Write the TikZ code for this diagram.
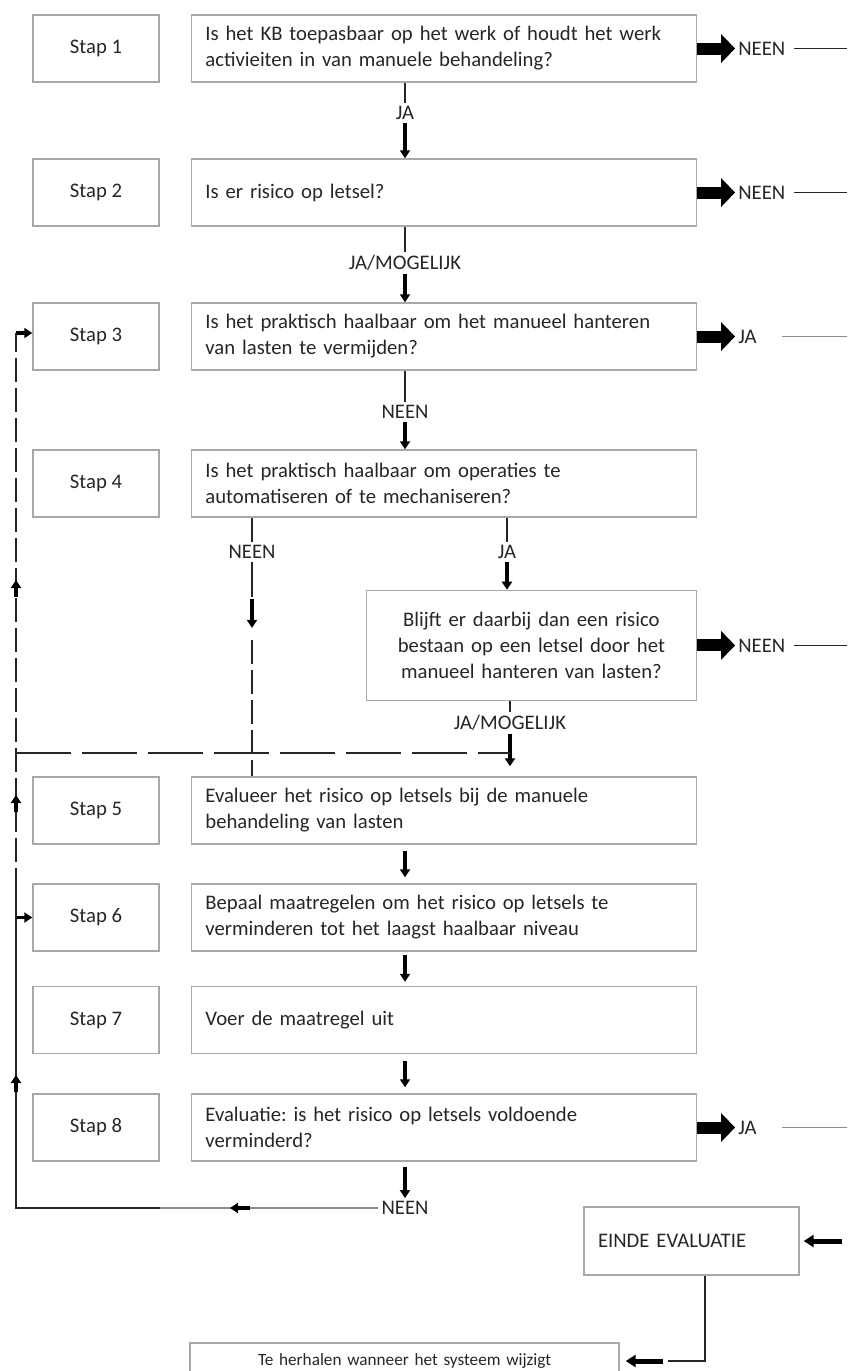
\documentclass[tikz,border=0pt]{standalone}
\usepackage{fontspec}
\setmainfont{Carlito}
\usepackage{xcolor}
\usepackage{tikz}
\usetikzlibrary{arrows, arrows.meta, positioning, calc}
\definecolor{boxgray}{HTML}{A8A8A8}
\definecolor{linegray}{HTML}{8C8C8C}
\definecolor{inkgray}{HTML}{262626}
\tikzstyle{stepbox} = [rectangle, minimum width=126pt, minimum height=67pt, text centered, draw=boxgray, line width=1.4pt]
\tikzstyle{question} = [rectangle, minimum height=67pt, text width=477pt, inner xsep=14pt, align=left, draw=boxgray, line width=1.4pt]
\tikzstyle{answer} = [inner sep=3pt]
\tikzstyle{connector} = [draw=inkgray, line width=1.2pt]
\tikzstyle{softline} = [draw=linegray, line width=1.5pt]
\tikzstyle{dashline} = [connector, dash pattern=on 24pt off 6pt]
\tikzstyle{arrow} = [draw=black, line width=3.2pt, -{Triangle[length=8pt, width=10pt]}]
\tikzstyle{bigarrow} = [draw=black, line width=12pt, -{Triangle[length=14pt, width=28pt]}]
\tikzstyle{midarrow} = [draw=black, line width=5pt, -{Triangle[length=10pt, width=12pt]}]

\begin{document}
\frenchspacing
\begin{tikzpicture}[x=1pt, y=-1pt, node distance=144pt, font=\fontsize{20.7}{26}\selectfont, text=inkgray]
    \useasboundingbox (0,0) rectangle (847,1371);
    \clip (0,0) rectangle (847,1371);

    % steps
    \node (s1) [stepbox] at (96,48.5) {Stap 1};
    \node (s2) [stepbox, below of=s1] {Stap 2};
    \node (s3) [stepbox, below of=s2] {Stap 3};
    \node (s4) [stepbox, below of=s3, yshift=-3pt] {Stap 4};
    \node (s5) [stepbox, below of=s4, yshift=-183pt] {Stap 5};
    \node (s6) [stepbox, below of=s5, yshift=37pt] {Stap 6};
    \node (s7) [stepbox, below of=s6, yshift=41.5pt] {Stap 7};
    \node (s8) [stepbox, below of=s7, yshift=36.5pt] {Stap 8};

    % questions
    \node (q1) [question, right=31pt of s1] {Is het KB toepasbaar op het werk of houdt het werk\\activieiten in van manuele behandeling?};
    \node (q2) [question, right=31pt of s2] {Is er risico op letsel?};
    \node (q3) [question, right=31pt of s3] {Is het praktisch haalbaar om het manueel hanteren\\van lasten te vermijden?};
    \node (q4) [question, right=31pt of s4] {Is het praktisch haalbaar om operaties te\\automatiseren of te mechaniseren?};
    \node (q4b) [question, text width=302pt, align=center, minimum height=110pt, below left=72pt and 0pt of q4.south east] {Blijft er daarbij dan een risico\\bestaan op een letsel door het\\manueel hanteren van lasten?};
    \node (q5) [question, right=31pt of s5] {Evalueer het risico op letsels bij de manuele\\behandeling van lasten};
    \node (q6) [question, right=31pt of s6] {Bepaal maatregelen om het risico op letsels te\\verminderen tot het laagst haalbaar niveau};
    \node (q7) [question, right=31pt of s7] {Voer de maatregel uit};
    \node (q8) [question, right=31pt of s8] {Evaluatie: is het risico op letsels voldoende\\verminderd?};
    \node (einde) [question, text width=187pt, minimum height=68pt] at (691.5,1241) {EINDE EVALUATIE};
    \node (herh) [question, text width=401pt, align=center, minimum height=36pt, font=\fontsize{17.2}{20}\selectfont] at (404.5,1361) {Te herhalen wanneer het systeem wijzigt};

    \coordinate (mid) at (405,0);
    \coordinate (edge) at (847,0);

    % main column
    \node (a1) [answer] at (405,113) {JA};
    \draw [connector] (q1.south -| mid) -- (a1);
    \draw [arrow] (a1) -- (q2.north -| mid);
    \node (a2) [answer] at (405,263) {JA/MOGELIJK};
    \draw [connector] (q2.south -| mid) -- (a2);
    \draw [arrow] (a2) -- (q3.north -| mid);
    \node (a3) [answer] at (405,412) {NEEN};
    \draw [connector] (q3.south -| mid) -- (a3);
    \draw [arrow] (a3) -- (q4.north -| mid);
    \draw [arrow] ($(q5.south -| mid)+(0,6)$) -- ($(q6.north -| mid)+(0,-6)$);
    \draw [arrow] ($(q6.south -| mid)+(0,3)$) -- ($(q7.north -| mid)+(0,-4)$);
    \draw [arrow] ($(q7.south -| mid)+(0,7)$) -- ($(q8.north -| mid)+(0,-6)$);

    % step 4 branches
    \node (a4n) [answer] at (252,552) {NEEN};
    \node (a4j) [answer] at (507,552) {JA};
    \draw [connector] (q4.south -| a4n) -- (a4n);
    \draw [connector] (q4.south -| a4j) -- (a4j);
    \draw [arrow] (a4j) -- (q4b.north -| a4j);
    \draw [connector] (a4n) -- ($(a4n.south)+(0,35)$);
    \draw [arrow] ($(a4n.south)+(0,37)$) -- ($(a4n.south)+(0,66)$);
    \draw [dashline] ($(a4n.south)+(0,78)$) -- (q5.north -| a4n);
    \node (a5) [answer] at (510,723) {JA/MOGELIJK};
    \draw [connector] (q4b.south -| a5) -- (a5);
    \draw [arrow] (a5) -- ($(q5.north -| a5)+(0,-10)$);

    % loop back on the left
    \coordinate (lt) at (16,333);
    \coordinate (lh) at (16,753);
    \coordinate (lm) at (16,892);
    \coordinate (lb) at (16,1208);
    \draw [dashline, dash pattern=on 55pt off 11pt] (lh) -- (lh -| a5);
    \node (a8) [answer] at (405,1208) {NEEN};
    \draw [arrow] ($(q8.south -| mid)+(0,5)$) -- (a8);
    \draw [softline] (a8) -- (lb -| s5.east);
    \draw [connector] (lb -| s5.east) -- (lb) -- (lm);
    \draw [dashline] (lm) -- (lt);
    \draw [arrow] (lt) -- (lt -| s3.west);
    \draw [arrow] (lb |- s6) -- (s6.west);
    \foreach \y in {597, 812, 1092}
        \draw [arrow] (lt |- 0,\y) -- (lt |- 0,\y-17);
    \draw [arrow] (a8 -| 250,0) -- (a8 -| 230,0);

    % exits on the right
    \node (r1) [answer, right=38pt of q1] {NEEN};
    \node (r2) [answer, right=38pt of q2] {NEEN};
    \node (r3) [answer, right=38pt of q3] {JA};
    \node (r4) [answer, right=38pt of q4b] {NEEN};
    \node (r8) [answer, right=38pt of q8] {JA};
    \draw [bigarrow] (q1) -- (r1);
    \draw [bigarrow] (q2) -- (r2);
    \draw [bigarrow] (q3) -- (r3);
    \draw [bigarrow] (q4b) -- (r4);
    \draw [bigarrow] (q8) -- (r8);
    \draw [connector, shorten <=6pt] (r1) -- (r1 -| edge);
    \draw [connector, shorten <=6pt] (r2) -- (r2 -| edge);
    \draw [softline, shorten <=22pt] (r3) -- (r3 -| edge);
    \draw [connector, shorten <=6pt] (r4) -- (r4 -| edge);
    \draw [softline, shorten <=22pt] (r8) -- (r8 -| edge);

    % end of evaluation
    \coordinate (ec) at (705,1361);
    \draw [midarrow] (einde -| 842,0) -- ($(einde.east)+(4,0)$);
    \draw [connector] (einde.south -| ec) -- (ec) -- ($(herh.east)+(48,0)$);
    \draw [midarrow] ($(herh.east)+(43,0)$) -- ($(herh.east)+(6,0)$);
\end{tikzpicture}
\end{document}
